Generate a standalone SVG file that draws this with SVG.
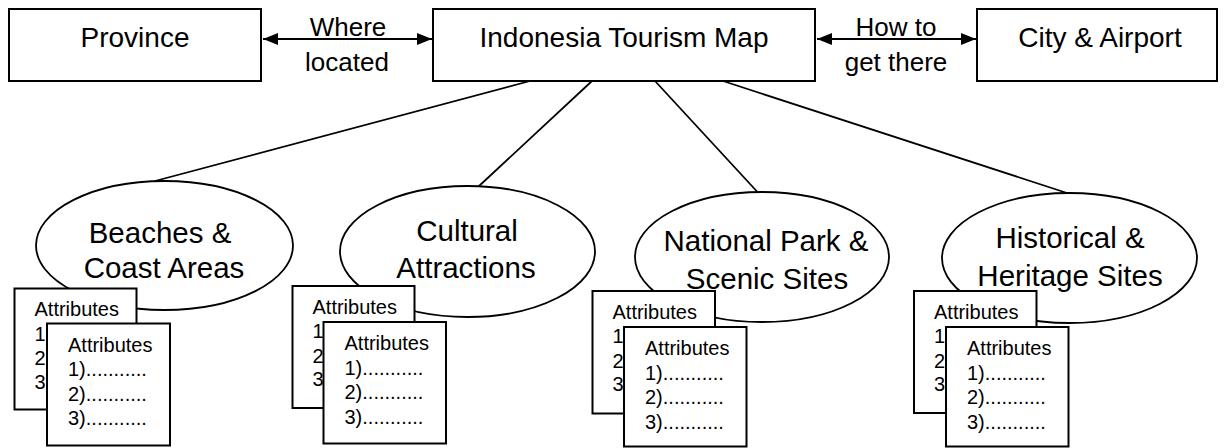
<svg xmlns="http://www.w3.org/2000/svg" width="1226" height="448" viewBox="0 0 1226 448">
<style>
.box{fill:#fff;stroke:#000;stroke-width:2}
.ell{fill:#fff;stroke:#000;stroke-width:1.8}
.att{fill:#fff;stroke:#000;stroke-width:2}
.big{font-family:"Liberation Sans",Arial,sans-serif;font-size:28px;fill:#000;text-anchor:middle}
.lab{font-family:"Liberation Sans",Arial,sans-serif;font-size:26px;fill:#000;text-anchor:middle}
.el{font-family:"Liberation Sans",Arial,sans-serif;font-size:29.5px;fill:#000;text-anchor:middle}
.at{font-family:"Liberation Sans",Arial,sans-serif;font-size:20px;fill:#000}
.ln{stroke:#000;stroke-width:1.8;fill:none}
</style>
<defs>
<marker id="ah" markerUnits="userSpaceOnUse" markerWidth="16" markerHeight="14" refX="15" refY="7" orient="auto-start-reverse">
<path d="M0,1 L15,7 L0,13 Z" fill="#000"/>
</marker>
</defs>
<g id="connectors">
<line class="ln" x1="263" y1="39" x2="432" y2="39" marker-start="url(#ah)" marker-end="url(#ah)"/>
<line class="ln" x1="817" y1="39" x2="976" y2="39" marker-start="url(#ah)" marker-end="url(#ah)"/>
<line class="ln" x1="530" y1="81" x2="155" y2="181"/>
<line class="ln" x1="592" y1="81" x2="478" y2="187"/>
<line class="ln" x1="655" y1="81" x2="757" y2="191.5"/>
<line class="ln" x1="723" y1="81" x2="1067" y2="193"/>
<text class="lab" x="348" y="36">Where</text>
<text class="lab" x="347" y="71">located</text>
<text class="lab" x="896" y="36">How to</text>
<text class="lab" x="896" y="71">get there</text>
</g>
<g id="province">
<rect class="box" x="9" y="9" width="252" height="72"/>
<text class="big" x="135" y="47">Province</text>
</g>
<g id="map">
<rect class="box" x="433" y="9" width="382" height="72"/>
<text class="big" x="624" y="47">Indonesia Tourism Map</text>
</g>
<g id="city">
<rect class="box" x="977" y="9" width="240" height="72"/>
<text class="big" x="1100" y="47">City &amp; Airport</text>
</g>
<g id="beaches">
<ellipse class="ell" cx="164.5" cy="245.5" rx="128.5" ry="64.5"/>
<text class="el" x="160" y="243">Beaches &amp;</text>
<text class="el" x="164" y="278">Coast Areas</text>
</g>
<g id="cultural">
<ellipse class="ell" cx="467.5" cy="251.5" rx="127.5" ry="65.5"/>
<text class="el" x="467" y="241">Cultural</text>
<text class="el" x="466" y="278">Attractions</text>
</g>
<g id="national">
<ellipse class="ell" cx="762" cy="257" rx="127" ry="65"/>
<text class="el" x="766" y="251">National Park &amp;</text>
<text class="el" x="767" y="289">Scenic Sites</text>
</g>
<g id="historical">
<ellipse class="ell" cx="1069.5" cy="258" rx="127.5" ry="65"/>
<text class="el" x="1070" y="248">Historical &amp;</text>
<text class="el" x="1070" y="286">Heritage Sites</text>
</g>
<g id="beaches-attr-back" transform="translate(14.5,288.5)">
<rect class="att" width="122" height="121"/>
<text class="at" x="20" y="27.5">Attributes</text>
<text class="at" x="20" y="52">1</text>
<text class="at" x="20" y="76.5">2</text>
<text class="at" x="20" y="100">3</text>
</g>
<g id="beaches-attr-front" transform="translate(47,323.5)">
<rect class="att" width="123" height="122"/>
<text class="at" x="21" y="28">Attributes</text>
<text class="at" x="21" y="52.5">1)...........</text>
<text class="at" x="21" y="77">2)...........</text>
<text class="at" x="21" y="101.5">3)...........</text>
</g>
<g id="cultural-attr-back" transform="translate(292.5,286)">
<rect class="att" width="122" height="122"/>
<text class="at" x="20" y="27.5">Attributes</text>
<text class="at" x="20" y="52">1</text>
<text class="at" x="20" y="76.5">2</text>
<text class="at" x="20" y="100">3</text>
</g>
<g id="cultural-attr-front" transform="translate(323.5,322)">
<rect class="att" width="122.5" height="121.5"/>
<text class="at" x="21" y="28">Attributes</text>
<text class="at" x="21" y="52.5">1)...........</text>
<text class="at" x="21" y="77">2)...........</text>
<text class="at" x="21" y="101.5">3)...........</text>
</g>
<g id="national-attr-back" transform="translate(592.5,291)">
<rect class="att" width="122.5" height="122.5"/>
<text class="at" x="20" y="27.5">Attributes</text>
<text class="at" x="20" y="52">1</text>
<text class="at" x="20" y="76.5">2</text>
<text class="at" x="20" y="100">3</text>
</g>
<g id="national-attr-front" transform="translate(624,327)">
<rect class="att" width="122.5" height="119.5"/>
<text class="at" x="21" y="28">Attributes</text>
<text class="at" x="21" y="52.5">1)...........</text>
<text class="at" x="21" y="77">2)...........</text>
<text class="at" x="21" y="101.5">3)...........</text>
</g>
<g id="historical-attr-back" transform="translate(914,291)">
<rect class="att" width="122.5" height="122"/>
<text class="at" x="20" y="27.5">Attributes</text>
<text class="at" x="20" y="52">1</text>
<text class="at" x="20" y="76.5">2</text>
<text class="at" x="20" y="100">3</text>
</g>
<g id="historical-attr-front" transform="translate(946,327)">
<rect class="att" width="122.5" height="119.5"/>
<text class="at" x="21" y="28">Attributes</text>
<text class="at" x="21" y="52.5">1)...........</text>
<text class="at" x="21" y="77">2)...........</text>
<text class="at" x="21" y="101.5">3)...........</text>
</g>
</svg>
